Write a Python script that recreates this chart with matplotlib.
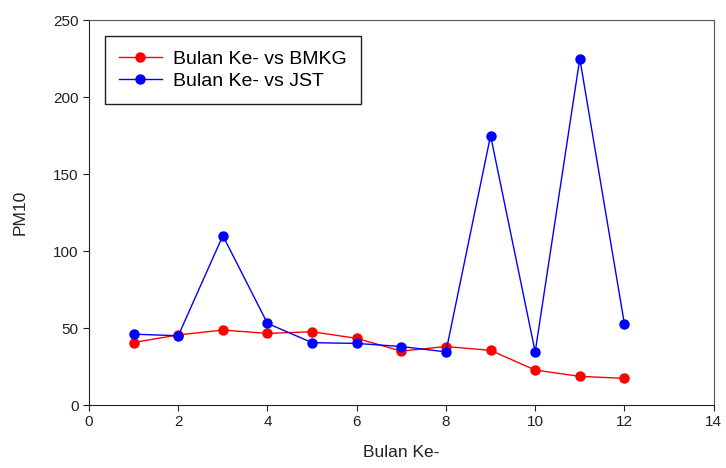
import matplotlib
matplotlib.use("Agg")
import matplotlib.pyplot as plt

plt.rcParams['font.family'] = ['Liberation Sans', 'DejaVu Sans']

bulan = [1, 2, 3, 4, 5, 6, 7, 8, 9, 10, 11, 12]
bmkg = [40.6, 45.5, 48.7, 46.5, 47.6, 43.3, 35.0, 38.0, 35.5, 22.7, 18.6, 17.3]
jst = [46.0, 45.0, 110.0, 53.0, 40.5, 40.0, 38.0, 34.5, 175.0, 34.5, 225.0, 52.6]

fig = plt.figure(figsize=(7.26, 4.68), dpi=100)
ax = fig.add_axes([0.1226, 0.1346, 0.8604, 0.8224])

ax.plot(bulan, bmkg, '-o', color='red', lw=1.0, markersize=6.5, label='Bulan Ke- vs BMKG')
ax.plot(bulan, jst, '-o', color='blue', lw=1.0, markersize=6.5, label='Bulan Ke- vs JST')

ax.set_xlim(0, 14)
ax.set_ylim(0, 250)
ax.set_xticks(range(0, 15, 2))
ax.set_yticks(range(0, 251, 50))
ax.tick_params(direction='out', length=4, labelsize=11, colors='#222222', top=False, right=False)
for s in ['left', 'bottom']:
    ax.spines[s].set_color('#222222')
for s in ['top', 'right']:
    ax.spines[s].set_color('#555555')

ax.set_xlabel('Bulan Ke-', fontsize=12.5, color='#222222', labelpad=11)
ax.set_ylabel('PM10', fontsize=12.5, color='#222222', labelpad=18)

leg = ax.legend(loc='upper left', bbox_to_anchor=(0.026, 0.958), fontsize=14, fancybox=False,
                framealpha=1, edgecolor='#222222', handlelength=2.2, handletextpad=0.6,
                borderpad=0.7, labelspacing=0.25, borderaxespad=0)
leg.get_frame().set_linewidth(1.0)

fig.savefig('out.png', dpi=100)
